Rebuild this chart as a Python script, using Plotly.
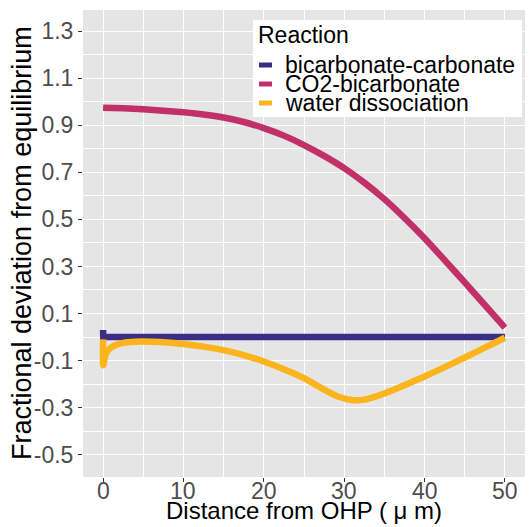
import plotly.graph_objects as go

# ---- data ----
reactions = ["bicarbonate-carbonate", "CO2-bicarbonate", "water dissociation"]
colors = ["#3B2C86", "#C2306A", "#FBB41C"]

x_bicarb = [0, 0.02, 50]
y_bicarb = [0.03, 0.0, 0.0]

x_co2 = [0, 2.5, 5, 7.5, 10, 12.5, 15, 17.5, 20, 22.5, 25, 27.5, 30, 32.5, 35,
         37.5, 40, 42.5, 45, 47.5, 50]
y_co2 = [0.975, 0.972, 0.968, 0.962, 0.955, 0.946, 0.933, 0.914, 0.888, 0.856,
         0.816, 0.770, 0.718, 0.656, 0.586, 0.506, 0.420, 0.327, 0.232, 0.136, 0.04]

x_water = [0, 0.02, 0.3, 0.8, 1.5, 2.5, 4, 6, 8, 10, 12.5, 15, 17.5, 20, 22.5, 25,
           26.5, 28, 29.5, 31, 32.5, 34, 35.5, 37.5, 40, 42.5, 45, 47.5, 50]
y_water = [-0.01, -0.12, -0.075, -0.05, -0.035, -0.025, -0.02, -0.02, -0.023, -0.03,
           -0.041, -0.056, -0.077, -0.104, -0.137, -0.175, -0.204, -0.233, -0.256,
           -0.268, -0.266, -0.252, -0.234, -0.205, -0.168, -0.128, -0.087, -0.045, -0.003]

x_ticks = [0, 10, 20, 30, 40, 50]
y_ticks = [-0.5, -0.3, -0.1, 0.1, 0.3, 0.5, 0.7, 0.9, 1.1, 1.3]

series = [(x_bicarb, y_bicarb, "linear"), (x_co2, y_co2, "spline"),
          (x_water, y_water, "spline")]

fig = go.Figure()
for name, col, (xs, ys, shp) in zip(reactions, colors, series):
    fig.add_trace(go.Scatter(x=xs, y=ys, mode="lines", name=name,
                             line=dict(color=col, width=6.5, shape=shp, smoothing=0.6),
                             showlegend=False))

# ---- layout geometry (pixels) ----
W, H = 530, 527
ML, MR, MT, MB = 83, 5, 10, 50
PW, PH = W - ML - MR, H - MT - MB


def px(xp):
    return (xp - ML) / PW


def py(yp):
    return 1 - (yp - MT) / PH


font_family = "Liberation Sans, Arial, sans-serif"

shapes = []
annotations = []
# legend box
shapes.append(dict(type="rect", xref="paper", yref="paper", x0=px(253), x1=px(522),
                   y0=py(117), y1=py(20), fillcolor="white", line=dict(width=0),
                   layer="above"))
annotations.append(dict(text="Reaction", xref="paper", yref="paper", x=px(256), y=py(35),
                        xanchor="left", yanchor="middle", showarrow=False,
                        font=dict(size=23, color="black", family=font_family)))
key_y = [65, 84, 103]
for name, col, ky in zip(reactions, colors, key_y):
    shapes.append(dict(type="rect", xref="paper", yref="paper", x0=px(259), x1=px(272),
                       y0=py(ky + 2.5), y1=py(ky - 2.5), fillcolor=col,
                       line=dict(width=0), layer="above"))
    annotations.append(dict(text=name, xref="paper", yref="paper", x=px(283), y=py(ky),
                            xanchor="left", yanchor="middle", showarrow=False,
                            font=dict(size=23, color="black", family=font_family)))
# x tick labels placed at the axis's data positions
for v in x_ticks:
    annotations.append(dict(text=str(v), xref="x", yref="paper", x=v, y=py(491),
                            xanchor="center", yanchor="middle", showarrow=False,
                            font=dict(size=23, color="#4D4D4D", family=font_family)))
# axis titles
annotations.append(dict(text="Distance from OHP ( μ m)", xref="paper", yref="paper",
                        x=px(304), y=py(510), xanchor="center", yanchor="middle",
                        showarrow=False,
                        font=dict(size=24, color="black", family=font_family)))
annotations.append(dict(text="Fractional deviation from equilibrium", xref="paper",
                        yref="paper", x=px(22), y=py(243), xanchor="center",
                        yanchor="middle", textangle=-90, showarrow=False,
                        font=dict(size=27, color="black", family=font_family)))

fig.update_layout(
    width=W, height=H,
    margin=dict(l=ML, r=MR, t=MT, b=MB),
    paper_bgcolor="white",
    plot_bgcolor="#E5E5E5",
    font=dict(family=font_family, color="black"),
    showlegend=False,
    shapes=shapes,
    annotations=annotations,
    xaxis=dict(
        range=[-2.5, 52.5], tickvals=x_ticks, showticklabels=False,
        showgrid=True, gridcolor="white", gridwidth=1.2, zeroline=False,
        ticks="outside", ticklen=4, tickcolor="#333333", tickwidth=1,
        minor=dict(tickvals=[5, 15, 25, 35, 45], showgrid=True, gridcolor="white",
                   gridwidth=0.6, ticks=""),
        showline=False,
    ),
    yaxis=dict(
        range=[-0.595, 1.39], tickvals=y_ticks, ticktext=[f"{v:.1f}" for v in y_ticks],
        showgrid=True, gridcolor="white", gridwidth=1.2, zeroline=False,
        ticks="outside", ticklen=4, tickcolor="#333333", tickwidth=1,
        tickfont=dict(size=23, color="#4D4D4D"),
        minor=dict(tickvals=[-0.4, -0.2, 0.0, 0.2, 0.4, 0.6, 0.8, 1.0, 1.2],
                   showgrid=True, gridcolor="white", gridwidth=0.6, ticks=""),
        showline=False,
    ),
)

fig.write_html("out.html")
